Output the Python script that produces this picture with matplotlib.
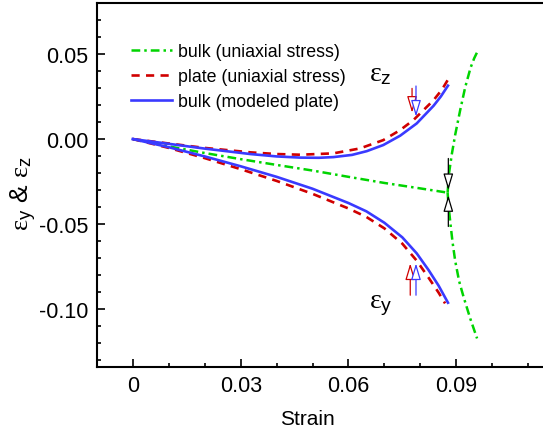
import matplotlib
matplotlib.use("Agg")
from matplotlib import pyplot as plt
from matplotlib.ticker import MultipleLocator, FixedLocator

plt.rcParams["font.family"] = ["Liberation Sans", "DejaVu Sans"]
plt.rcParams["mathtext.fontset"] = "custom"
plt.rcParams["mathtext.rm"] = "Liberation Serif"
plt.rcParams["mathtext.it"] = "Liberation Serif:italic"
plt.rcParams["mathtext.sf"] = "Liberation Sans"
plt.rcParams["axes.unicode_minus"] = False

# bulk, uniaxial stress (green): shared part, then the two branches
green_x = [0, 0.01, 0.02, 0.03, 0.04, 0.05, 0.06, 0.07, 0.08, 0.0876]
green_y = [0, -0.0043, -0.0082, -0.0118, -0.0152, -0.0185, -0.0222, -0.0258, -0.0290, -0.0315]
green_z_x = [0.0876, 0.0880, 0.0888, 0.0897, 0.0911, 0.0925, 0.0940, 0.0950, 0.0958]
green_z_y = [-0.0315, -0.020, -0.0085, 0.0024, 0.017, 0.0305, 0.042, 0.0475, 0.051]
green_e_x = [0.0876, 0.0879, 0.0884, 0.0890, 0.0897, 0.0908, 0.0920, 0.0939, 0.0958]
green_e_y = [-0.0315, -0.040, -0.050, -0.061, -0.0715, -0.0835, -0.0925, -0.1055, -0.1172]

# plate, uniaxial stress (red)
red_z_x = [0, 0.01, 0.02, 0.0327, 0.040, 0.0466, 0.0558, 0.0632, 0.0697, 0.0744, 0.0781, 0.0837, 0.0860, 0.0878]
red_z_y = [0, -0.0026, -0.0052, -0.0078, -0.0088, -0.0092, -0.0084, -0.0055, -0.0006, 0.0053, 0.0112, 0.0229, 0.029, 0.0353]
red_y_x = [0, 0.01, 0.02, 0.03, 0.04, 0.05, 0.06, 0.065, 0.07, 0.075, 0.079, 0.0823, 0.0851, 0.0869]
red_y_y = [0, -0.0052, -0.0112, -0.0177, -0.0246, -0.0322, -0.0408, -0.0458, -0.0525, -0.0615, -0.0715, -0.0815, -0.0903, -0.0966]

# bulk, modeled plate (blue)
blue_z_x = [0, 0.005, 0.01, 0.02, 0.0327, 0.040, 0.0466, 0.0518, 0.0558, 0.061, 0.0651, 0.0697, 0.0744, 0.079, 0.0837, 0.0857, 0.0877]
blue_z_y = [0, -0.0014, -0.0028, -0.0056, -0.0088, -0.0102, -0.0109, -0.0110, -0.0106, -0.0093, -0.0071, -0.0035, 0.0020, 0.0092, 0.0196, 0.025, 0.0314]
blue_y_x = [0, 0.01, 0.02, 0.03, 0.04, 0.05, 0.06, 0.065, 0.07, 0.075, 0.079, 0.0823, 0.0851, 0.0877]
blue_y_y = [0, -0.0048, -0.0102, -0.0160, -0.0222, -0.0292, -0.0376, -0.0425, -0.0492, -0.0578, -0.0672, -0.0770, -0.0862, -0.0962]

# arrows: (x, y_tail, y_tip)
arrows_black = [(0.0878, -0.0114, -0.030), (0.0878, -0.0514, -0.033)]
arrows_red = [(0.0777, 0.0298, 0.0155), (0.0772, -0.0918, -0.0731)]
arrows_blue = [(0.0788, 0.0312, 0.0132), (0.0788, -0.0918, -0.0731)]

GREEN = "#00d400"
RED = "#d00000"
BLUE = "#3a3aff"

fig = plt.figure(figsize=(5.43, 4.31), dpi=100)
ax = fig.add_axes([97 / 543, 63 / 431, 467 / 543, 364 / 431])

dashdot = (3.5, 1.6, 1.0, 1.6)
ax.plot(green_x, green_y, color=GREEN, lw=1.8, dashes=dashdot,
        label="bulk (uniaxial stress)")
ax.plot(green_z_x, green_z_y, color=GREEN, lw=1.8, dashes=dashdot)
ax.plot(green_e_x, green_e_y, color=GREEN, lw=1.8, dashes=dashdot)
ax.plot(red_z_x, red_z_y, color=RED, lw=1.9, dashes=(3.1, 2.4),
        label="plate (uniaxial stress)")
ax.plot(red_y_x, red_y_y, color=RED, lw=1.9, dashes=(3.1, 2.4))
ax.plot(blue_z_x, blue_z_y, color=BLUE, lw=1.9, label="bulk (modeled plate)")
ax.plot(blue_y_x, blue_y_y, color=BLUE, lw=1.9)


def arrow(x, y0, y1, color):
    ax.annotate("", xy=(x, y1), xytext=(x, y0),
                arrowprops=dict(arrowstyle="-|>,head_length=1.0,head_width=0.3",
                                mutation_scale=10, fc="white", ec=color, lw=0.9,
                                shrinkA=0, shrinkB=0))


for x, y0, y1 in arrows_black:
    arrow(x, y0, y1, "black")
for x, y0, y1 in arrows_red:
    arrow(x, y0, y1, RED)
for x, y0, y1 in arrows_blue:
    arrow(x, y0, y1, BLUE)

ax.text(0.069, 0.0386, r"$\mathrm{\varepsilon}_{\mathsf{z}}$", fontsize=20, ha="center", va="center")
ax.text(0.0691, -0.0967, r"$\mathrm{\varepsilon}_{\mathsf{y}}$", fontsize=20, ha="center", va="center")

ax.set_xlim(-0.01, 0.12)
ax.set_ylim(-0.134, 0.08)
ax.xaxis.set_major_locator(FixedLocator([0, 0.03, 0.06, 0.09]))
ax.set_xticklabels(["0", "0.03", "0.06", "0.09"])
ax.xaxis.set_minor_locator(MultipleLocator(0.01))
ax.yaxis.set_major_locator(FixedLocator([-0.10, -0.05, 0.0, 0.05]))
ax.set_yticklabels(["-0.10", "-0.05", "0.00", "0.05"])
ax.yaxis.set_minor_locator(MultipleLocator(0.01))
ax.tick_params(which="both", direction="in", labelsize=15.5, width=1.2)
ax.tick_params(which="major", length=5.5, pad=6)
ax.tick_params(which="minor", length=3)
ax.tick_params(top=False, right=False, which="both")
for s in ["left", "bottom", "top"]:
    ax.spines[s].set_linewidth(1.5)
ax.spines["right"].set_visible(False)

ax.set_xlabel("Strain", fontsize=15)
ax.xaxis.set_label_coords(0.45, -0.115)
ax.set_ylabel(r"$\mathrm{\varepsilon}_{\mathsf{y}}$ & $\mathrm{\varepsilon}_{\mathsf{z}}$", fontsize=19)
ax.yaxis.set_label_coords(-0.125, 0.48)

ax.legend(loc="upper left", bbox_to_anchor=(131 / 543, 1 - 44 / 431),
          bbox_transform=fig.transFigure, frameon=False, fontsize=12.8,
          handlelength=2.3, handletextpad=0.35, labelspacing=0.45,
          borderpad=0, borderaxespad=0)

fig.savefig("out.png", dpi=100)
